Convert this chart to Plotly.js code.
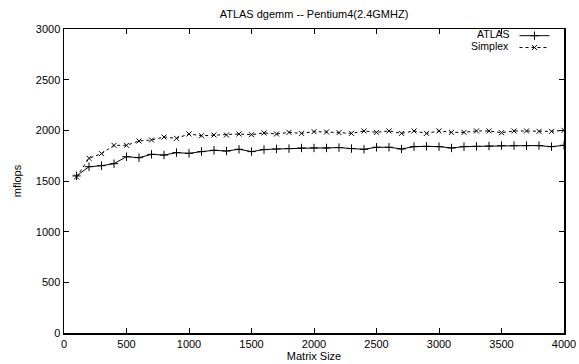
<!DOCTYPE html>
<html><head><meta charset="utf-8">
<script src="https://cdn.plot.ly/plotly-3.0.1.min.js"></script>
<style>html,body{margin:0;padding:0;background:#fff}#chart{width:579px;height:364px}</style>
</head><body><div id="chart"></div>
<script>
const matrixSizes = [100,200,300,400,500,600,700,800,900,1000,1100,1200,1300,1400,1500,1600,1700,1800,1900,2000,2100,2200,2300,2400,2500,2600,2700,2800,2900,3000,3100,3200,3300,3400,3500,3600,3700,3800,3900,4000];
const atlasMflops = [1550,1641,1651,1671,1740,1730,1763,1756,1780,1773,1790,1803,1796,1813,1790,1810,1816,1820,1826,1826,1826,1830,1820,1813,1833,1833,1816,1839,1842,1839,1826,1839,1842,1845,1849,1849,1849,1849,1839,1852];
const simplexMflops = [1540,1724,1770,1852,1852,1895,1905,1934,1921,1964,1947,1954,1954,1964,1957,1974,1964,1980,1970,1987,1984,1977,1970,1994,1980,1994,1970,1994,1970,1994,1980,1980,1994,1994,1977,1994,1994,1990,1990,2000];
const seriesNames = ["ATLAS", "Simplex"];
const xTicks = [0,500,1000,1500,2000,2500,3000,3500,4000];
const yTicks = [0,500,1000,1500,2000,2500,3000];

const font = {family: "Liberation Sans, Arial, sans-serif", size: 11, color: "#000"};
const legFont = {family: "Liberation Sans, Arial, sans-serif", size: 10.5, color: "#000"};
const traces = [
  {x: matrixSizes, y: atlasMflops, name: "", legend: "legend", type: "scatter", mode: "lines+markers",
   line: {color: "#000", width: 1}, marker: {symbol: "cross-thin", size: 6, line: {color: "#000", width: 1}}},
  {x: matrixSizes, y: simplexMflops, name: "", legend: "legend2", type: "scatter", mode: "lines+markers",
   line: {color: "#000", width: 1, dash: "3px,3px"}, marker: {symbol: "x-thin", size: 5, line: {color: "#000", width: 1}}}
];
const axisCommon = {showline: true, mirror: "ticks", linecolor: "#000", linewidth: 1.5, ticks: "inside", ticklen: 5,
  tickcolor: "#000", tickwidth: 1, showgrid: false, zeroline: false, tickfont: font};
const legendCommon = {x: 0.991, xanchor: "right", yanchor: "middle", bgcolor: "rgba(0,0,0,0)", font: font, itemwidth: 30};
const layout = {
  width: 579, height: 364, margin: {l: 64, r: 15, t: 29, b: 31},
  paper_bgcolor: "#fff", plot_bgcolor: "#fff", font: font,
  title: {text: "ATLAS dgemm -- Pentium4(2.4GMHZ)", font: font, x: 0.5, xref: "paper", y: 0.96, yref: "container", yanchor: "middle"},
  xaxis: Object.assign({}, axisCommon, {range: [0, 4000], tickvals: xTicks, ticktext: xTicks.map(String),
    title: {text: "Matrix Size", font: font, standoff: 2}}),
  yaxis: Object.assign({}, axisCommon, {range: [0, 3000], tickvals: yTicks, ticktext: yTicks.map(String),
    title: {text: "mflops", font: font, standoff: 12}}),
  showlegend: true,
  legend: Object.assign({}, legendCommon, {y: 0.978}),
  legend2: Object.assign({}, legendCommon, {y: 0.939}),
  annotations: [
    {text: seriesNames[0], xref: "paper", yref: "paper", x: 0.892, y: 0.983, xanchor: "right", yanchor: "middle", showarrow: false, font: legFont, borderpad: 0},
    {text: seriesNames[1], xref: "paper", yref: "paper", x: 0.892, y: 0.943, xanchor: "right", yanchor: "middle", showarrow: false, font: legFont, borderpad: 0}
  ]
};
Plotly.newPlot("chart", traces, layout, {displayModeBar: false, staticPlot: true});
</script></body></html>
